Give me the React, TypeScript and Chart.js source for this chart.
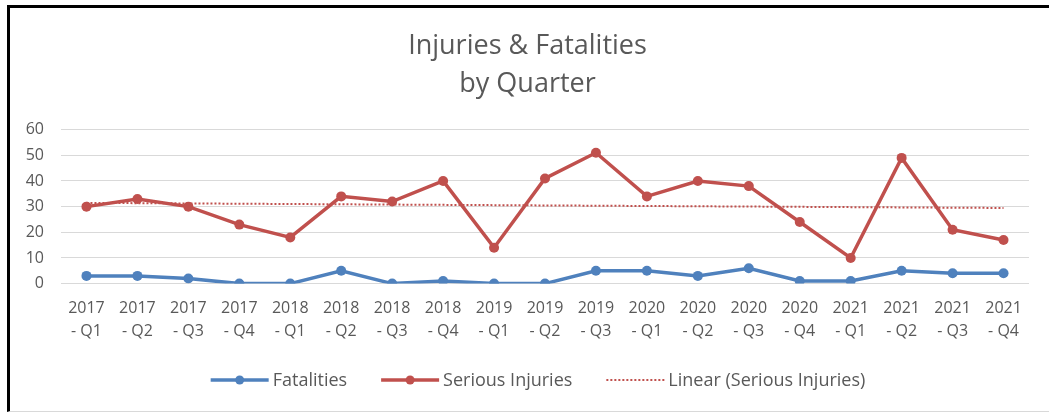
import React, { useEffect, useRef } from "react";
import { Chart, registerables } from "chart.js";

Chart.register(...registerables);

const quarters = [
  "2017 - Q1", "2017 - Q2", "2017 - Q3", "2017 - Q4",
  "2018 - Q1", "2018 - Q2", "2018 - Q3", "2018 - Q4",
  "2019 - Q1", "2019 - Q2", "2019 - Q3",
  "2020 - Q1", "2020 - Q2", "2020 - Q3", "2020 - Q4",
  "2021 - Q1", "2021 - Q2", "2021 - Q3", "2021 - Q4",
];
const fatalities = [3, 3, 2, 0, 0, 5, 0, 1, 0, 0, 5, 5, 3, 6, 1, 1, 5, 4, 4];
const seriousInjuries = [30, 33, 30, 23, 18, 34, 32, 40, 14, 41, 51, 34, 40, 38, 24, 10, 49, 21, 17];
const yMin = 0;
const yMax = 60;
const yStep = 10;
const titleLines = ["Injuries & Fatalities", "by Quarter"];
const seriesNames = ["Fatalities", "Serious Injuries", "Linear (Serious Injuries)"];

const FONT = "'Open Sans', Lato, sans-serif";
const TEXT = "#595959";
const BLUE = "#4F81BD";
const RED = "#C0504D";

function linearTrend(values: number[]): number[] {
  const n = values.length;
  let sx = 0, sy = 0, sxy = 0, sxx = 0;
  values.forEach((v, i) => {
    const x = i + 1;
    sx += x; sy += v; sxy += x * v; sxx += x * x;
  });
  const slope = (n * sxy - sx * sy) / (n * sxx - sx * sx);
  const intercept = (sy - slope * sx) / n;
  return values.map((_, i) => intercept + slope * (i + 1));
}

const legendPlugin = {
  id: "excelLegend",
  afterDraw(chart: any) {
    const ctx = chart.ctx as CanvasRenderingContext2D;
    const datasets = chart.data.datasets as any[];
    ctx.save();
    ctx.font = `18px ${FONT}`;
    const sample = 58;
    const gapText = 4;
    const gapItem = 34;
    const widths = datasets.map((ds) => sample + gapText + ctx.measureText(ds.label).width);
    const total = widths.reduce((a, b) => a + b, 0) + gapItem * (datasets.length - 1);
    const centerX = 528;
    const y = chart.height - 31;
    let x = centerX - total / 2;
    datasets.forEach((ds, i) => {
      ctx.save();
      ctx.strokeStyle = ds.borderColor;
      ctx.lineWidth = ds.borderWidth;
      ctx.setLineDash(ds.borderDash || []);
      ctx.lineCap = "butt";
      ctx.beginPath();
      ctx.moveTo(x, y);
      ctx.lineTo(x + sample, y);
      ctx.stroke();
      if (ds.pointRadius > 0) {
        ctx.setLineDash([]);
        ctx.fillStyle = ds.pointBackgroundColor;
        ctx.beginPath();
        ctx.arc(x + sample / 2, y, 4.5, 0, Math.PI * 2);
        ctx.fill();
      }
      ctx.restore();
      ctx.fillStyle = TEXT;
      ctx.textBaseline = "middle";
      ctx.textAlign = "left";
      ctx.fillText(ds.label, x + sample + gapText, y + 1);
      x += widths[i] + gapItem;
    });
    ctx.restore();
  },
};

export default function App() {
  const canvasRef = useRef<HTMLCanvasElement | null>(null);

  useEffect(() => {
    if (!canvasRef.current) return;
    const trend = linearTrend(seriousInjuries);
    const chart = new Chart(canvasRef.current, {
      type: "line",
      data: {
        labels: quarters,
        datasets: [
          {
            label: seriesNames[0],
            data: fatalities,
            borderColor: BLUE,
            backgroundColor: BLUE,
            pointBackgroundColor: BLUE,
            pointBorderColor: BLUE,
            borderWidth: 3.5,
            pointRadius: 5,
            pointBorderWidth: 0,
            tension: 0,
          },
          {
            label: seriesNames[1],
            data: seriousInjuries,
            borderColor: RED,
            backgroundColor: RED,
            pointBackgroundColor: RED,
            pointBorderColor: RED,
            borderWidth: 3.5,
            pointRadius: 5,
            pointBorderWidth: 0,
            tension: 0,
          },
          {
            label: seriesNames[2],
            data: trend,
            borderColor: RED,
            backgroundColor: RED,
            borderWidth: 2,
            borderDash: [2, 2],
            pointRadius: 0,
            tension: 0,
          },
        ],
      },
      options: {
        animation: false,
        responsive: true,
        maintainAspectRatio: false,
        events: [],
        layout: { padding: { left: 16, right: 20, top: 0, bottom: 63 } },
        plugins: {
          legend: { display: false },
          tooltip: { enabled: false },
          title: {
            display: true,
            text: titleLines,
            color: TEXT,
            font: { family: FONT, size: 27, weight: "normal", lineHeight: 1.42 },
            padding: { top: 19, bottom: 26 },
          },
        },
        scales: {
          x: {
            offset: true,
            grid: { display: false },
            border: { display: false },
            afterFit: (scale: any) => {
              scale.paddingLeft = 0;
              scale.paddingRight = 0;
            },
            ticks: {
              color: TEXT,
              autoSkip: false,
              maxRotation: 0,
              minRotation: 0,
              padding: 5,
              font: { family: FONT, size: 16, lineHeight: 1.45 },
              callback: (_v: any, i: number) => {
                const [year, q] = quarters[i].split(" - ");
                return [year, "- " + q];
              },
            },
          },
          y: {
            min: yMin,
            max: yMax,
            afterFit: (scale: any) => {
              scale.width = 35;
            },
            grid: { color: "#D9D9D9", lineWidth: 1, drawTicks: false },
            border: { display: false },
            ticks: {
              stepSize: yStep,
              color: TEXT,
              padding: 17,
              font: { family: FONT, size: 16 },
            },
          },
        },
      },
      plugins: [legendPlugin],
    });
    return () => chart.destroy();
  }, []);

  return (
    <div
      style={{
        position: "absolute",
        left: 7,
        top: 5,
        width: 1042,
        height: 407,
        boxSizing: "border-box",
        borderTop: "3px solid #000",
        borderLeft: "3px solid #000",
        borderBottom: "1px solid #D9D9D9",
        background: "#fff",
      }}
    >
      <div style={{ position: "relative", width: 1039, height: 403 }}>
        <canvas ref={canvasRef} />
      </div>
    </div>
  );
}
